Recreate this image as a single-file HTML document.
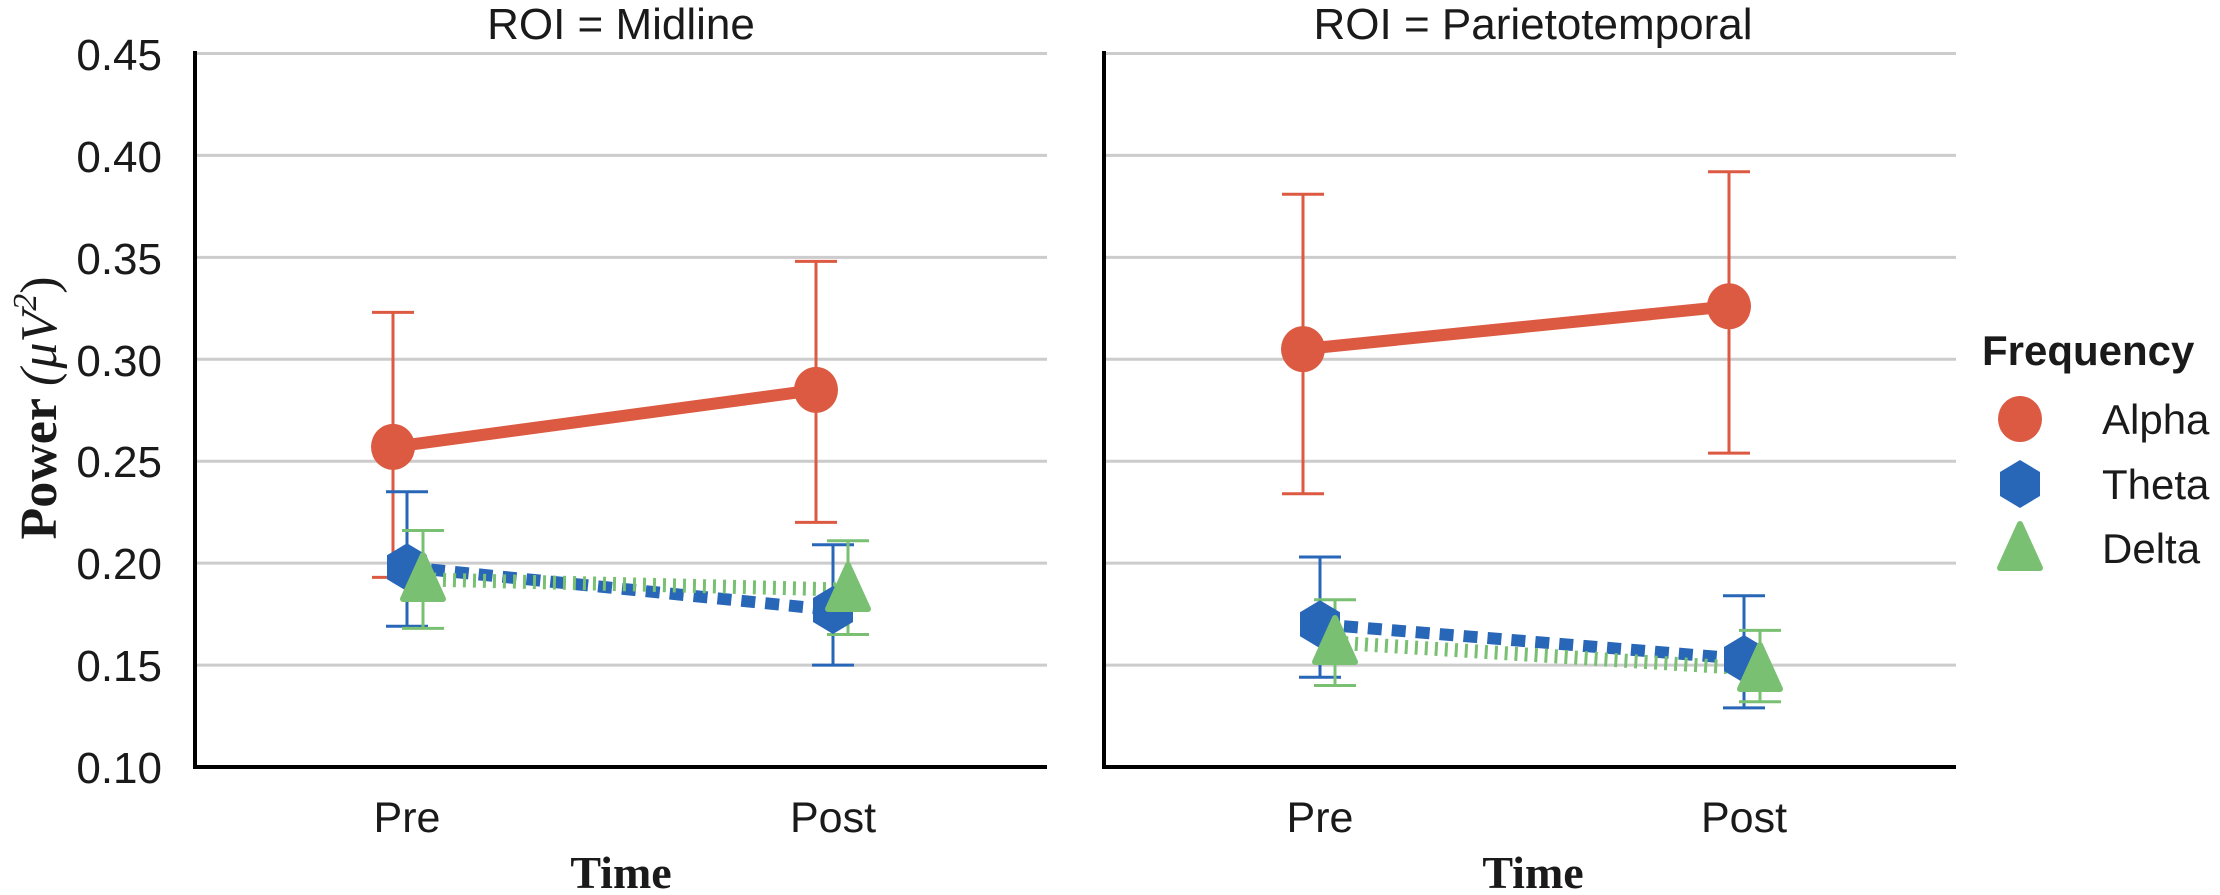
<!DOCTYPE html>
<html><head><meta charset="utf-8"><style>
html,body{margin:0;padding:0;background:#fff;}
svg{display:block;}
text{font-family:"Liberation Sans",sans-serif;fill:#1a1a1a;}
.t{font-size:44px;}
.s{font-family:"Liberation Serif",serif;font-weight:bold;}
</style></head><body>
<svg width="2220" height="895" viewBox="0 0 2220 895" xmlns="http://www.w3.org/2000/svg">
<g stroke="#cccccc" stroke-width="3">
<line x1="195" x2="1047" y1="53.5" y2="53.5"/><line x1="195" x2="1047" y1="155.4" y2="155.4"/><line x1="195" x2="1047" y1="257.4" y2="257.4"/><line x1="195" x2="1047" y1="359.3" y2="359.3"/><line x1="195" x2="1047" y1="461.2" y2="461.2"/><line x1="195" x2="1047" y1="563.1" y2="563.1"/><line x1="195" x2="1047" y1="665.1" y2="665.1"/>
<line x1="1105" x2="1956" y1="53.5" y2="53.5"/><line x1="1105" x2="1956" y1="155.4" y2="155.4"/><line x1="1105" x2="1956" y1="257.4" y2="257.4"/><line x1="1105" x2="1956" y1="359.3" y2="359.3"/><line x1="1105" x2="1956" y1="461.2" y2="461.2"/><line x1="1105" x2="1956" y1="563.1" y2="563.1"/><line x1="1105" x2="1956" y1="665.1" y2="665.1"/>
</g>
<g stroke="#000" stroke-width="4" fill="none">
<polyline points="195,51 195,767 1047,767"/>
<polyline points="1104,51 1104,767 1956,767"/>
</g>
<g class="t" text-anchor="end">
<text x="162" y="70">0.45</text><text x="162" y="172">0.40</text><text x="162" y="274">0.35</text><text x="162" y="376">0.30</text><text x="162" y="477">0.25</text><text x="162" y="579">0.20</text><text x="162" y="681">0.15</text><text x="162" y="783">0.10</text>
</g>
<text class="t" x="621" y="39" text-anchor="middle" style="font-size:44px">ROI = Midline</text>
<text class="t" x="1533" y="39" text-anchor="middle" style="font-size:44px">ROI = Parietotemporal</text>
<g class="t" text-anchor="middle" style="font-size:43px">
<text x="407" y="832">Pre</text><text x="833" y="832">Post</text>
<text x="1320" y="832">Pre</text><text x="1744" y="832">Post</text>
</g>
<text class="s" x="621" y="888" text-anchor="middle" style="font-size:46px">Time</text>
<text class="s" x="1533" y="888" text-anchor="middle" style="font-size:46px">Time</text>
<text class="s" transform="translate(56,408) rotate(-90)" text-anchor="middle" style="font-size:52px">Power <tspan font-weight="normal" font-style="italic">(μV</tspan><tspan font-weight="normal" font-style="italic" dy="-20" style="font-size:34px">2</tspan><tspan font-weight="normal" dy="20">)</tspan></text>

<g stroke-width="3" fill="none">
<g stroke="#dc5a42">
<path d="M393,577.4V312.4M372,577.4H414M372,312.4H414"/>
<path d="M816,522.4V261.4M795,522.4H837M795,261.4H837"/>
<path d="M1303,493.8V194.2M1282,493.8H1324M1282,194.2H1324"/>
<path d="M1729,453.1V171.7M1708,453.1H1750M1708,171.7H1750"/>
</g>
<g stroke="#2866b8">
<path d="M407,626.3V491.8M386,626.3H428M386,491.8H428"/>
<path d="M833,665.1V544.8M812,665.1H854M812,544.8H854"/>
<path d="M1320,677.3V557M1299,677.3H1341M1299,557H1341"/>
<path d="M1744,707.9V595.8M1723,707.9H1765M1723,595.8H1765"/>
</g>
<g stroke="#79c072">
<path d="M423,628.4V530.5M402,628.4H444M402,530.5H444"/>
<path d="M848,634.5V540.7M827,634.5H869M827,540.7H869"/>
<path d="M1335,685.5V599.8M1314,685.5H1356M1314,599.8H1356"/>
<path d="M1760,701.8V630.4M1739,701.8H1781M1739,630.4H1781"/>
</g>
</g>
<g fill="none">
<line x1="393" y1="446.9" x2="816" y2="389.9" stroke="#dc5a42" stroke-width="12"/>
<line x1="1303" y1="349.1" x2="1729" y2="306.3" stroke="#dc5a42" stroke-width="12"/>
<line x1="407" y1="567.2" x2="833" y2="610" stroke="#2866b8" stroke-width="12" stroke-dasharray="14 10"/>
<line x1="1320" y1="624.3" x2="1744" y2="659" stroke="#2866b8" stroke-width="12" stroke-dasharray="14 10"/>
<line x1="423" y1="579.4" x2="848" y2="589.6" stroke="#79c072" stroke-width="14" stroke-dasharray="3 7"/>
<line x1="1335" y1="642.6" x2="1760" y2="669.1" stroke="#79c072" stroke-width="14" stroke-dasharray="3 7"/>
</g>
<g fill="#dc5a42">
<ellipse cx="393" cy="446.9" rx="22" ry="23"/><ellipse cx="816" cy="389.9" rx="22" ry="23"/>
<ellipse cx="1303" cy="349.1" rx="22" ry="23"/><ellipse cx="1729" cy="306.3" rx="22" ry="23"/>
<ellipse cx="2020" cy="419" rx="22" ry="23"/>
</g>
<g fill="#2866b8">
<polygon transform="translate(407,567.2)" points="0,-24 20,-12 20,12 0,24 -20,12 -20,-12"/>
<polygon transform="translate(833,610)" points="0,-24 20,-12 20,12 0,24 -20,12 -20,-12"/>
<polygon transform="translate(1320,624.3)" points="0,-24 20,-12 20,12 0,24 -20,12 -20,-12"/>
<polygon transform="translate(1744,659)" points="0,-24 20,-12 20,12 0,24 -20,12 -20,-12"/>
<polygon transform="translate(2020,484)" points="0,-24 20,-12 20,12 0,24 -20,12 -20,-12"/>
</g>
<g fill="#79c072" stroke="#79c072" stroke-width="6" stroke-linejoin="round">
<polygon transform="translate(423,582)" points="0,-27 20,17 -20,17"/>
<polygon transform="translate(848,592)" points="0,-27 20,17 -20,17"/>
<polygon transform="translate(1335,645)" points="0,-27 20,17 -20,17"/>
<polygon transform="translate(1760,672)" points="0,-27 20,17 -20,17"/>
<polygon transform="translate(2020,551)" points="0,-27 20,17 -20,17"/>
</g>
<text x="1982" y="365" style="font-size:42px;font-weight:bold">Frequency</text>
<g class="t" style="font-size:42px">
<text x="2102" y="434">Alpha</text><text x="2102" y="499">Theta</text><text x="2102" y="563">Delta</text>
</g>
</svg>
</body></html>
